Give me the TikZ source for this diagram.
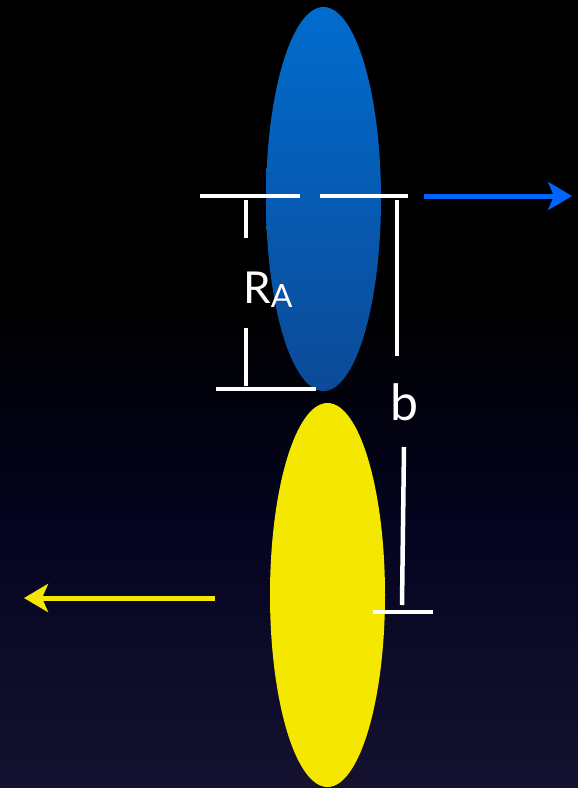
\documentclass[tikz,border=0pt]{standalone}
\usepackage{fontspec}
\setmainfont{Lato}
\usetikzlibrary{shapes.geometric,arrows.meta}
\definecolor{skytop}{RGB}{0,0,0}
\definecolor{skylow}{RGB}{5,5,34}
\definecolor{skyfloor}{RGB}{20,18,48}
\definecolor{bluetop}{RGB}{0,108,205}
\definecolor{bluelow}{RGB}{12,74,152}
\definecolor{beamblue}{RGB}{0,100,255}
\definecolor{beamyellow}{RGB}{245,232,0}
\begin{document}
\begin{tikzpicture}[x=1pt, y=-1pt,
  nucleus/.style={ellipse, minimum width=115pt, minimum height=384pt, inner sep=0pt},
  tick/.style={white, line width=4.5pt},
  motion/.style={line width=5pt, -{Stealth[length=24pt, width=28pt, inset=6pt]}},
  lbl/.style={text=white, inner sep=0pt}
]
  % background
  \fill[skytop] (0,0) rectangle (578,300);
  \shade[top color=skytop, bottom color=skyfloor, middle color=skylow] (0,300) rectangle (578,788);
  \useasboundingbox (0,0) rectangle (578,788);

  % nuclei
  \node[nucleus, top color=bluetop, bottom color=bluelow] (nucA) at (323.5,199) {};
  \node[nucleus, fill=beamyellow] (nucB) at (327.5,595) {};

  % radius R_A
  \coordinate (ra1) at (200,196); \coordinate (ra2) at (300,196);
  \coordinate (ra3) at (320,196); \coordinate (ra4) at (408,196);
  \coordinate (ra5) at (216,389); \coordinate (ra6) at (316,389);
  \coordinate (rv1) at (246,200); \coordinate (rv2) at (246,238);
  \coordinate (rv3) at (246,328); \coordinate (rv4) at (246,386);
  \draw[tick] (ra1) -- (ra2);
  \draw[tick] (ra3) -- (ra4);
  \draw[tick] (ra5) -- (ra6);
  \draw[tick] (rv1) -- (rv2);
  \draw[tick] (rv3) -- (rv4);
  \node[lbl, font=\fontsize{44}{44}\selectfont] (rlabel) at (268,290)
    {R\raisebox{-4pt}{\fontsize{32}{32}\selectfont A}};

  % impact parameter b
  \coordinate (bv1) at (397,200); \coordinate (bv2) at (397,356);
  \coordinate (bv3) at (404,447); \coordinate (bv4) at (402,605);
  \coordinate (bh1) at (373,612); \coordinate (bh2) at (433,612);
  \draw[tick] (bv1) -- (bv2);
  \draw[tick] (bv3) -- (bv4);
  \draw[tick] (bh1) -- (bh2);
  \node[lbl, font=\fontsize{50}{50}\selectfont] (blabel) at (404,402) {b};

  % motion
  \coordinate (mA1) at (424,196); \coordinate (mA2) at (572,196);
  \coordinate (mB1) at (215,598); \coordinate (mB2) at (24,598);
  \draw[motion, beamblue] (mA1) -- (mA2);
  \draw[motion, beamyellow] (mB1) -- (mB2);
\end{tikzpicture}
\end{document}
